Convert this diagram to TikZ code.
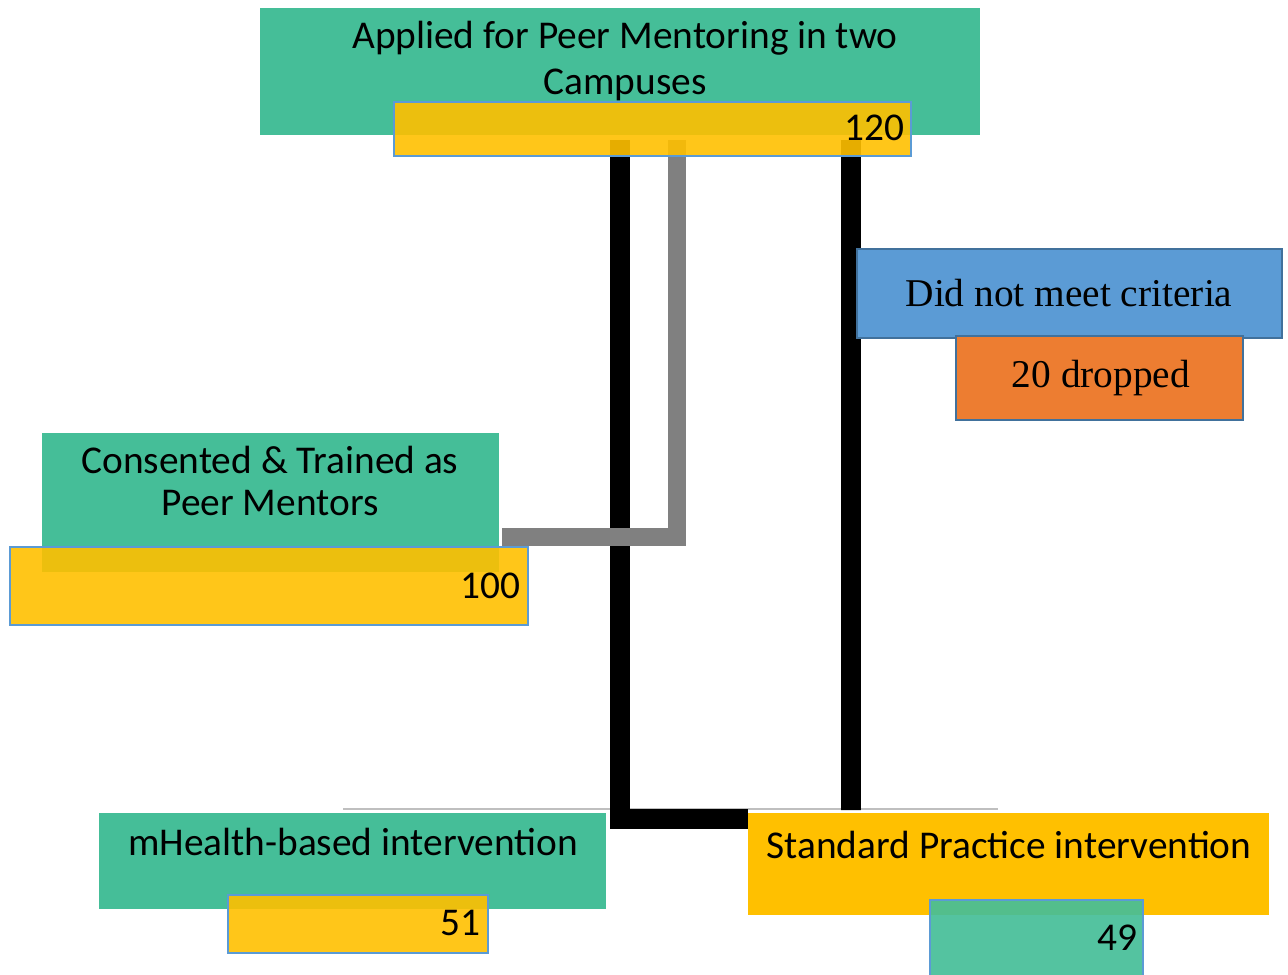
\documentclass[tikz,border=0pt]{standalone}
\usepackage{fontspec}
\setmainfont{Carlito}
\newfontfamily\serifface{Liberation Serif}
\usetikzlibrary{backgrounds}

\definecolor{boxgreen}{RGB}{69,190,152}
\definecolor{boxyellow}{RGB}{255,192,0}
\definecolor{boxblue}{RGB}{91,155,213}
\definecolor{edgeblue}{RGB}{65,113,156}
\definecolor{boxorange}{RGB}{237,125,49}
\definecolor{rulegray}{RGB}{191,191,191}
\definecolor{bargray}{RGB}{128,128,128}

\begin{document}
\begin{tikzpicture}[x=0.02cm, y=-0.02cm,
    box/.style={rectangle, inner sep=0pt, outer sep=0pt},
    greenbox/.style={box, fill=boxgreen},
    countbox/.style={box, fill=boxyellow, fill opacity=0.9, draw=boxblue, line width=1.4pt},
    boxtext/.style={inner sep=0pt, font=\fontsize{22.4}{26.6}\selectfont, align=center},
    blackbar/.style={line width=11.3pt, black},
    graybar/.style={line width=10.2pt, bargray}]
\useasboundingbox (0,0) rectangle (1288,974);

% boxes
\node[greenbox, minimum width=14.4cm, minimum height=2.54cm] (applied) at (620,71.5) {};
\node[countbox, minimum width=10.34cm, minimum height=1.08cm] (count120) at (652.5,129) {};
\node[box, fill=boxblue, draw=edgeblue, line width=1.4pt, minimum width=8.5cm, minimum height=1.78cm] (notmet) at (1069.5,293.5) {};
\node[box, fill=boxorange, draw=edgeblue, line width=1.4pt, minimum width=5.74cm, minimum height=1.68cm] (dropped) at (1099.5,378) {};
\node[greenbox, minimum width=9.14cm, minimum height=2.78cm] (trained) at (270.5,502.5) {};
\node[countbox, minimum width=10.36cm, minimum height=1.56cm] (count100) at (269,586) {};
\node[greenbox, minimum width=10.14cm, minimum height=1.92cm] (mhealth) at (352.5,861) {};
\node[countbox, minimum width=5.2cm, minimum height=1.16cm] (count51) at (358,924) {};
\node[box, fill=boxyellow, minimum width=10.42cm, minimum height=2.04cm] (standard) at (1008.5,864) {};
\node[box, fill=boxgreen, fill opacity=0.92, draw=boxblue, line width=1.4pt, minimum width=4.26cm, minimum height=1.8cm] (count49) at (1036.5,945) {};

% texts
\node[boxtext] (appliedtext) at (625,61) {Applied for Peer Mentoring in two\\Campuses};
\node[boxtext, anchor=east] (n120) at (905,128) {120};
\node[boxtext, font=\fontsize{22.4}{26.6}\serifface] (notmettext) at (1069,293) {Did not meet criteria};
\node[boxtext, font=\fontsize{22.4}{26.6}\serifface] (droppedtext) at (1101,378) {20 dropped};
\node[boxtext, font=\fontsize{22.4}{23.8}\selectfont] (trainedtext) at (270,481) {Consented \& Trained as\\Peer Mentors};
\node[boxtext, anchor=east] (n100) at (521,586) {100};
\node[boxtext] (mhealthtext) at (353,842) {mHealth-based intervention};
\node[boxtext, anchor=east] (n51) at (481,923) {51};
\node[boxtext] (standardtext) at (1009,845) {Standard Practice intervention};
\node[boxtext, anchor=east] (n49) at (1138,938) {49};

% connectors, behind the boxes
\begin{scope}[on background layer]
\coordinate (ruleleft) at (343,809);
\coordinate (ruleright) at (998,809);
\draw[rulegray, line width=1.1pt] (ruleleft) -- (ruleright);
\draw[blackbar] ([xshift=-0.65cm,yshift=0.32cm]count120.south) |- ([yshift=0.9cm]standard.west);
\draw[blackbar] ([xshift=3.97cm,yshift=0.32cm]count120.south) -- ([xshift=-3.15cm,yshift=0.06cm]standard.north);
\draw[graybar] ([xshift=0.49cm,yshift=0.32cm]count120.south) |- ([xshift=0.06cm,yshift=-0.69cm]trained.east);
\end{scope}
\end{tikzpicture}
\end{document}
